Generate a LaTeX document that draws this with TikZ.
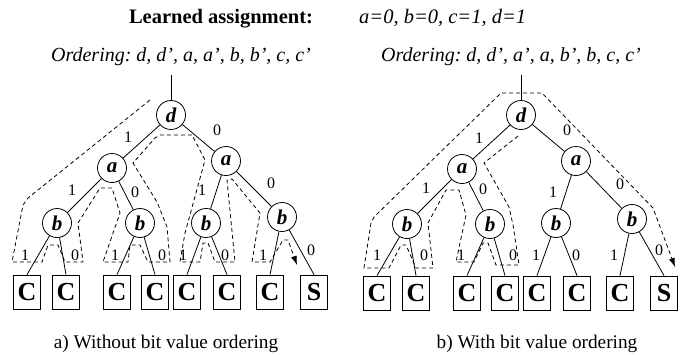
\documentclass[tikz,border=0pt]{standalone}
\usepackage{fontspec}
\setmainfont{Liberation Serif}
\usetikzlibrary{arrows.meta}
\frenchspacing
\begin{document}
\begin{tikzpicture}[x=1pt,y=-1pt,
  vnode/.style={circle,draw,line width=0.8pt,minimum size=29pt,inner sep=0pt,font=\fontsize{21}{21}\selectfont\bfseries\itshape},
  leaf/.style={rectangle,draw,line width=0.8pt,minimum width=27pt,minimum height=34pt,inner sep=0pt,font=\fontsize{26}{26}\selectfont\bfseries},
  elab/.style={font=\fontsize{16}{16}\selectfont,inner sep=0pt},
  edge/.style={line width=0.8pt},
  trace/.style={line width=0.8pt,dash pattern=on 4pt off 3pt,-{Latex[length=9pt,width=6pt]}},
  txt/.style={font=\fontsize{20}{20}\selectfont,inner sep=0pt,anchor=base}
]
\useasboundingbox (0,0) rectangle (692,354);

% titles
\node[txt,font=\fontsize{20.5}{20}\selectfont\bfseries] (title) at (221,23) {Learned assignment:};
\node[txt,anchor=base west,font=\fontsize{20.5}{20}\selectfont\itshape] (assign) at (359,23) {a=0, b=0, c=1, d=1};
\node[txt,font=\fontsize{20}{20}\selectfont\itshape] (orda) at (181,61) {Ordering: d, d', a, a', b, b', c, c'};
\node[txt,font=\fontsize{20}{20}\selectfont\itshape] (ordb) at (511,61) {Ordering: d, d', a', a, b', b, c, c'};
\node[txt,font=\fontsize{19.3}{20}\selectfont] (capa) at (166,348) {a) Without bit value ordering};
\node[txt,font=\fontsize{19.3}{20}\selectfont] (capb) at (537,348) {b) With bit value ordering};

% ---------- tree a ----------
\coordinate (atop) at (171,75);
\node[vnode] (ad) at (171,115) {d};
\node[vnode] (aa1) at (112,168) {a};
\node[vnode] (aa2) at (226,161) {a};
\node[vnode] (ab1) at (57,223) {b};
\node[vnode] (ab2) at (140,223) {b};
\node[vnode] (ab3) at (206,223) {b};
\node[vnode] (ab4) at (282,217) {b};
\node[leaf] (ac1) at (27,292) {C};
\node[leaf] (ac2) at (66,292) {C};
\node[leaf] (ac3) at (117,292) {C};
\node[leaf] (ac4) at (155,292) {C};
\node[leaf] (ac5) at (187,292) {C};
\node[leaf] (ac6) at (227,292) {C};
\node[leaf] (ac7) at (270,292) {C};
\node[leaf] (as8) at (314,292) {S};
\draw[edge] (atop) -- (ad);
\draw[edge] (ad) -- (aa1);
\draw[edge] (ad) -- (aa2);
\draw[edge] (aa1) -- (ab1);
\draw[edge] (aa1) -- (ab2);
\draw[edge] (aa2) -- (ab3);
\draw[edge] (aa2) -- (ab4);
\draw[edge] (ab1) -- (ac1.north);
\draw[edge] (ab1) -- (ac2.north);
\draw[edge] (ab2) -- (ac3.north);
\draw[edge] (ab2) -- (ac4.north);
\draw[edge] (ab3) -- (ac5.north);
\draw[edge] (ab3) -- (ac6.north);
\draw[edge] (ab4) -- (ac7.north);
\draw[edge] (ab4) -- (as8.north);
\node[elab] (al1) at (128,137) {1};
\node[elab] (al2) at (217,130) {0};
\node[elab] (al3) at (72,190) {1};
\node[elab] (al4) at (135,192) {0};
\node[elab] (al5) at (202,190) {1};
\node[elab] (al6) at (271,183) {0};
\node[elab] (al7) at (25,255) {1};
\node[elab] (al8) at (75,255) {0};
\node[elab] (al9) at (115,255) {1};
\node[elab] (al10) at (162,255) {0};
\node[elab] (al11) at (183,255) {1};
\node[elab] (al12) at (225,255) {0};
\node[elab] (al13) at (263,255) {1};
\node[elab] (al14) at (311,250) {0};
\draw[trace] (150,100) -- (28,198) -- (23,205) -- (12,262) -- (42,262) -- (48,245) -- (58,245) -- (65,262) -- (83,262) -- (78,223) -- (100,188) -- (112,188) -- (120,213) -- (103,262) -- (128,262) -- (130,245) -- (140,245) -- (148,262) -- (170,262) -- (167,227) -- (157,202) -- (133,163) -- (155,138) -- (160,135) -- (192,135) -- (205,160) -- (185,233) -- (180,262) -- (200,262) -- (203,243) -- (208,243) -- (215,262) -- (235,262) -- (227,180) -- (232,179) -- (260,213) -- (252,262) -- (270,262) -- (283,240) -- (288,240) -- (297,265);

% ---------- tree b ----------
\coordinate (btop) at (521,75);
\node[vnode] (bd) at (521,115) {d};
\node[vnode] (ba1) at (462,169) {a};
\node[vnode] (ba2) at (576,161) {a};
\node[vnode] (bb1) at (407,224) {b};
\node[vnode] (bb2) at (490,224) {b};
\node[vnode] (bb3) at (556,223) {b};
\node[vnode] (bb4) at (632,219) {b};
\node[leaf] (bc1) at (377,293) {C};
\node[leaf] (bc2) at (416,293) {C};
\node[leaf] (bc3) at (467,293) {C};
\node[leaf] (bc4) at (505,293) {C};
\node[leaf] (bc5) at (537,293) {C};
\node[leaf] (bc6) at (577,293) {C};
\node[leaf] (bc7) at (620,293) {C};
\node[leaf] (bs8) at (664,293) {S};
\draw[edge] (btop) -- (bd);
\draw[edge] (bd) -- (ba1);
\draw[edge] (bd) -- (ba2);
\draw[edge] (ba1) -- (bb1);
\draw[edge] (ba1) -- (bb2);
\draw[edge] (ba2) -- (bb3);
\draw[edge] (ba2) -- (bb4);
\draw[edge] (bb1) -- (bc1.north);
\draw[edge] (bb1) -- (bc2.north);
\draw[edge] (bb2) -- (bc3.north);
\draw[edge] (bb2) -- (bc4.north);
\draw[edge] (bb3) -- (bc5.north);
\draw[edge] (bb3) -- (bc6.north);
\draw[edge] (bb4) -- (bc7.north);
\draw[edge] (bb4) -- (bs8.north);
\node[elab] (bl1) at (479,138) {1};
\node[elab] (bl2) at (567,130) {0};
\node[elab] (bl3) at (426,188) {1};
\node[elab] (bl4) at (483,189) {0};
\node[elab] (bl5) at (553,192) {1};
\node[elab] (bl6) at (620,184) {0};
\node[elab] (bl7) at (377,255) {1};
\node[elab] (bl8) at (424,255) {0};
\node[elab] (bl9) at (461,255) {1};
\node[elab] (bl10) at (513,255) {0};
\node[elab] (bl11) at (536,255) {1};
\node[elab] (bl12) at (576,255) {0};
\node[elab] (bl13) at (614,255) {1};
\node[elab] (bl14) at (659,250) {0};
\draw[trace] (518,136) -- (484,163) -- (509,207) -- (513,225) -- (519,265) -- (496,265) -- (488,243) -- (483,243) -- (474,262) -- (456,262) -- (466,215) -- (459,190) -- (446,190) -- (428,223) -- (433,268) -- (416,268) -- (406,245) -- (401,245) -- (389,268) -- (364,268) -- (371,223) -- (374,217) -- (501,93) -- (542,93) -- (653,208) -- (675,267);
\end{tikzpicture}
\end{document}
